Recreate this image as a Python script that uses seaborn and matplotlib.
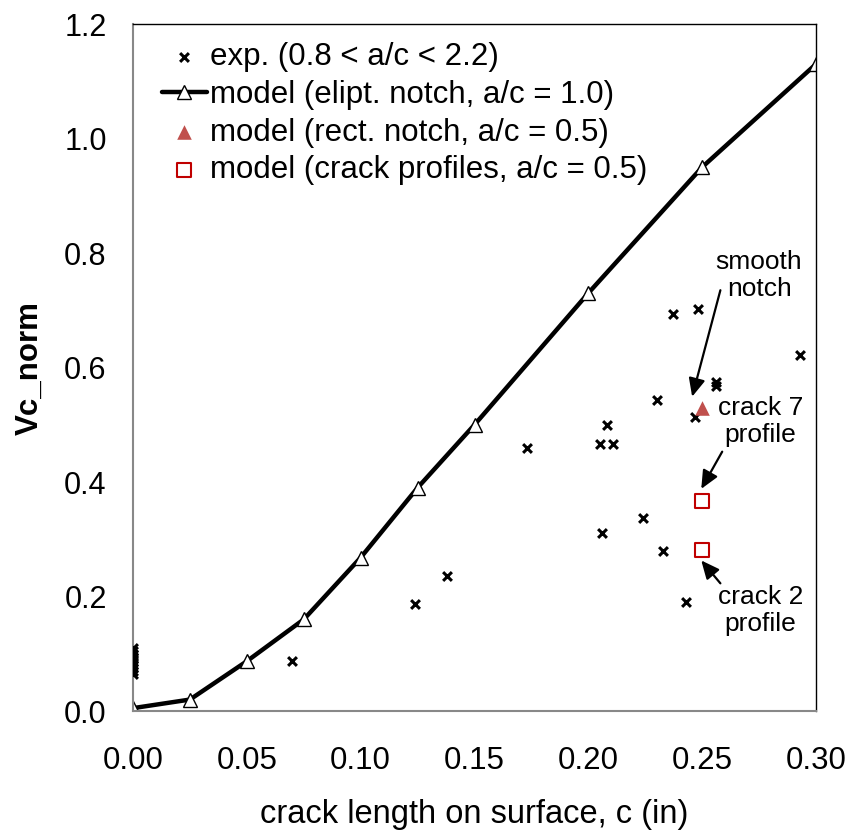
import numpy as np
import pandas as pd
import matplotlib.pyplot as plt
import seaborn as sns

# model curve (elliptical notch, a/c = 1.0)
model_c = [0.0, 0.025, 0.05, 0.075, 0.10, 0.125, 0.15, 0.20, 0.25, 0.30]
model_v = [0.005, 0.02, 0.087, 0.16, 0.268, 0.39, 0.50, 0.73, 0.95, 1.13]

# experimental points
exp_c = [0.0, 0.0, 0.0, 0.0, 0.0, 0.0, 0.0, 0.0, 0.0, 0.0,
         0.070, 0.124, 0.138, 0.173, 0.205, 0.208, 0.211, 0.206,
         0.224, 0.233, 0.230, 0.237, 0.248, 0.247, 0.243,
         0.256, 0.256, 0.293]
exp_v = [0.065, 0.070, 0.075, 0.080, 0.085, 0.090, 0.095, 0.100, 0.105, 0.110,
         0.087, 0.187, 0.235, 0.459, 0.467, 0.500, 0.467, 0.311,
         0.338, 0.279, 0.544, 0.694, 0.703, 0.514, 0.190,
         0.575, 0.568, 0.621]

# rectangular notch model
rect_c = [0.25]
rect_v = [0.529]

# crack profile model
prof_c = [0.25, 0.25]
prof_v = [0.366, 0.281]

sns.set_style("white")
plt.rcParams['font.family'] = ['Liberation Sans', 'DejaVu Sans']
plt.rcParams['text.color'] = 'black'
plt.rcParams['axes.labelcolor'] = 'black'

fig = plt.figure(figsize=(8.5, 8.31), dpi=100)
ax = fig.add_axes([0.1565, 0.1444, 0.8035, 0.8267])

sns.scatterplot(x=exp_c, y=exp_v, marker='x', color='black', s=40, linewidth=2.2,
                label='exp. (0.8 < a/c < 2.2)', ax=ax, zorder=3)
sns.lineplot(x=model_c, y=model_v, color='black', linewidth=3.2, marker='^',
             markersize=10, markerfacecolor='white', markeredgecolor='black',
             markeredgewidth=1.0, label='model (elipt. notch, a/c = 1.0)', ax=ax, zorder=2)
sns.scatterplot(x=rect_c, y=rect_v, marker='^', color='#c0504d', s=110, linewidth=0,
                label='model (rect. notch, a/c = 0.5)', ax=ax, zorder=4)
sns.scatterplot(x=prof_c, y=prof_v, marker='s', facecolor='white', edgecolor='#c00000',
                s=110, linewidth=1.5, label='model (crack profiles, a/c = 0.5)', ax=ax, zorder=4)

ax.set_xlim(0, 0.30)
ax.set_ylim(0, 1.2)
ax.set_xticks(np.arange(0, 0.301, 0.05))
ax.set_yticks(np.arange(0, 1.21, 0.2))
ax.set_xticklabels([f"{v:.2f}" for v in np.arange(0, 0.301, 0.05)])
ax.set_yticklabels([f"{v:.1f}" for v in np.arange(0, 1.21, 0.2)])

ax.tick_params(axis='x', direction='in', length=6, width=1, color='#888888',
               labelcolor='black', labelsize=22.5, pad=25)
ax.tick_params(axis='y', direction='in', length=7, width=1, color='#888888',
               labelcolor='black', labelsize=22, pad=19)
for side in ['left', 'bottom']:
    ax.spines[side].set_color('#888888')
    ax.spines[side].set_linewidth(1.5)
for side in ['top', 'right']:
    ax.spines[side].set_color('black')
    ax.spines[side].set_linewidth(1.0)

ax.set_xlabel('crack length on surface, c (in)', fontsize=23.5, labelpad=17)
ax.set_ylabel('Vc_norm', fontsize=22.5, fontweight='bold', labelpad=14)

ax.legend(loc='upper left', bbox_to_anchor=(0.042, 0.974), frameon=False, fontsize=22.5,
          handlelength=1.45, handletextpad=0.1, borderaxespad=0, labelspacing=0.25,
          borderpad=0)

arrow = dict(arrowstyle='-|>,head_length=0.55,head_width=0.25', color='black',
             lw=1.6, mutation_scale=20, shrinkA=0, shrinkB=0)
ax.text(0.275, 0.760, 'smooth\nnotch', ha='center', va='center', fontsize=19,
        linespacing=1.15)
ax.annotate('', xy=(0.2456, 0.549), xytext=(0.258, 0.735), arrowprops=arrow)
ax.text(0.2757, 0.505, 'crack 7\nprofile', ha='center', va='center', fontsize=19,
        linespacing=1.15)
ax.annotate('', xy=(0.2496, 0.388), xytext=(0.2588, 0.453), arrowprops=arrow)
ax.text(0.2757, 0.175, 'crack 2\nprofile', ha='center', va='center', fontsize=19,
        linespacing=1.15)
ax.annotate('', xy=(0.2496, 0.263), xytext=(0.2580, 0.223), arrowprops=arrow)

fig.savefig('out.png', dpi=100)
